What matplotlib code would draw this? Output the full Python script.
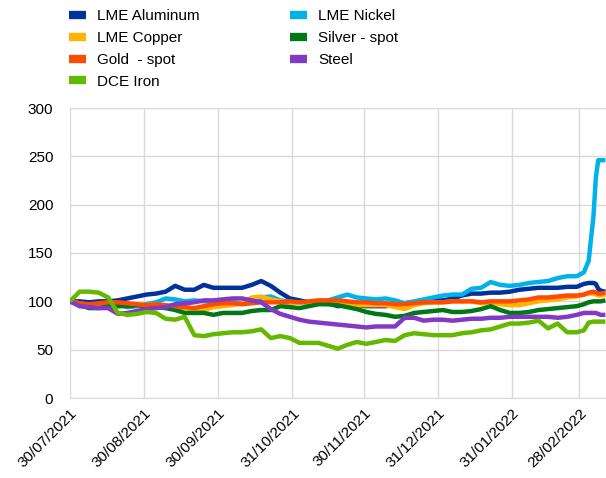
import pandas as pd
import numpy as np
import matplotlib
matplotlib.use("Agg")
import matplotlib.pyplot as plt
import matplotlib.dates as mdates

# fechas: cada 4 dias hasta fines de febrero, luego mas densas (salto del niquel)
fechas = list(pd.date_range("2021-07-30", "2022-02-27", freq="4D")) + \
    list(pd.to_datetime(["2022-03-02", "2022-03-04", "2022-03-06", "2022-03-07",
                         "2022-03-08", "2022-03-09", "2022-03-11"]))

aluminio = [100, 100, 99, 100, 100, 101, 103, 105, 107, 108,
            110, 116, 112, 112, 117, 114, 114, 114, 114, 117,
            121, 116, 109, 103, 101, 99, 98, 98, 95, 96,
            96, 95, 95, 95, 96, 98, 99, 100, 101, 101,
            103, 106, 108, 108, 109, 109, 110, 112, 113, 114,
            114, 114, 115, 115, 118, 119, 119, 118, 113, 111, 110]
niquel = [100, 98, 96, 97, 99, 98, 94, 95, 97, 99,
          103, 102, 100, 101, 100, 100, 100, 99, 98, 99,
          104, 105, 101, 99, 99, 99, 98, 101, 104, 107,
          104, 103, 102, 103, 101, 98, 100, 102, 104, 106,
          107, 107, 113, 114, 120, 117, 116, 117, 119, 120,
          121, 124, 126, 126, 130, 142, 188, 228, 246, 246, 246]
cobre = [100, 97, 96, 97, 97, 95, 96, 97, 96, 97,
         95, 94, 93, 92, 91, 94, 95, 96, 98, 104,
         105, 102, 100, 98, 99, 99, 98, 97, 98, 97,
         96, 96, 96, 96, 94, 92, 96, 98, 99, 99,
         100, 100, 100, 98, 99, 97, 96, 96, 98, 100,
         101, 102, 104, 105, 107, 108, 108, 107, 106, 106, 107]
plata = [100, 96, 93, 93, 95, 95, 95, 96, 95, 94,
         93, 91, 88, 88, 88, 86, 88, 88, 88, 90,
         91, 91, 95, 94, 93, 95, 97, 97, 96, 94,
         92, 89, 87, 86, 84, 85, 88, 89, 90, 91,
         89, 89, 90, 92, 95, 91, 88, 88, 89, 91,
         92, 93, 94, 95, 97, 99, 100, 100, 100, 100, 101]
oro = [100, 98, 97, 98, 99, 99, 98, 97, 96, 97,
       96, 95, 94, 93, 95, 97, 98, 98, 97, 98,
       99, 99, 99, 100, 99, 100, 101, 101, 101, 100,
       99, 99, 98, 98, 97, 97, 98, 99, 99, 99,
       100, 100, 100, 99, 100, 100, 100, 101, 102, 104,
       104, 105, 106, 106, 107, 109, 110, 109, 108, 108, 109]
acero = [100, 95, 94, 93, 93, 87, 88, 90, 92, 93,
         94, 97, 98, 99, 101, 101, 102, 103, 103, 101,
         99, 92, 87, 84, 81, 79, 78, 77, 76, 75,
         74, 73, 74, 74, 74, 83, 83, 80, 81, 81,
         80, 81, 82, 82, 83, 83, 84, 84, 84, 84,
         84, 83, 84, 86, 88, 88, 88, 88, 87, 86, 86]
hierro = [100, 110, 110, 109, 104, 88, 86, 87, 89, 88,
          82, 81, 84, 65, 64, 66, 67, 68, 68, 69,
          71, 62, 64, 62, 57, 57, 57, 54, 51, 55,
          58, 56, 58, 60, 59, 65, 67, 66, 65, 65,
          65, 67, 68, 70, 71, 74, 77, 77, 78, 80,
          72, 77, 68, 68, 70, 78, 79, 79, 79, 79, 79]

# orden de dibujo (como Excel) y orden de la leyenda
series = [
    ("LME Aluminum", aluminio, "#003299"),
    ("LME Nickel", niquel, "#00B1EA"),
    ("LME Copper", cobre, "#FFB400"),
    ("Silver - spot", plata, "#007816"),
    ("Gold  - spot", oro, "#FF4B00"),
    ("Steel", acero, "#8139C6"),
    ("DCE Iron", hierro, "#65B800"),
]
orden_leyenda = ["LME Aluminum", "LME Copper", "Gold  - spot", "DCE Iron",
                 "LME Nickel", "Silver - spot", "Steel"]

ticks_fechas = pd.to_datetime(["2021-07-30", "2021-08-30", "2021-09-30", "2021-10-31",
                               "2021-11-30", "2021-12-31", "2022-01-31", "2022-02-28"])
ticks_y = [0, 50, 100, 150, 200, 250, 300]

plt.rcParams["font.family"] = ["Liberation Sans", "DejaVu Sans"]
plt.rcParams["font.size"] = 11

fig = plt.figure(figsize=(6.06, 4.78), dpi=100)
ax = fig.add_axes([70 / 606, 80 / 478, 1 - 70 / 606, 290 / 478])

lineas = {}
for nombre, valores, color in series:
    (l,) = ax.plot(fechas, valores, color=color, lw=3.2, label=nombre,
                   solid_joinstyle="round", solid_capstyle="butt")
    lineas[nombre] = l

ax.set_ylim(0, 300)
ax.set_yticks(ticks_y)
ax.set_xlim(pd.Timestamp("2021-07-30"), pd.Timestamp("2022-03-11 06:00"))
ax.set_xticks(ticks_fechas)
ax.xaxis.set_major_formatter(mdates.DateFormatter("%d/%m/%Y"))
for lab in ax.get_xticklabels():
    lab.set_rotation(45)
    lab.set_ha("right")
    lab.set_rotation_mode("anchor")

ax.grid(True, color="#d9d9d9", lw=1)
ax.set_axisbelow(True)
for s in ["top", "right", "left"]:
    ax.spines[s].set_visible(False)
ax.spines["bottom"].set_color("#d9d9d9")
ax.tick_params(length=0, labelsize=11, colors="black")
ax.tick_params(axis="x", pad=6)
ax.tick_params(axis="y", pad=12)

handles = [lineas[n] for n in orden_leyenda]
leg = fig.legend(handles, orden_leyenda, loc="upper left", ncol=2,
                 bbox_to_anchor=(69 / 606, 1 - 9 / 478), frameon=False,
                 fontsize=11, handlelength=1.1, handletextpad=0.75,
                 columnspacing=5.9, labelspacing=0.52, borderpad=0,
                 borderaxespad=0)
for h in leg.get_lines():
    h.set_linewidth(6)
    h.set_solid_capstyle("butt")

fig.savefig("out.png", dpi=100)
